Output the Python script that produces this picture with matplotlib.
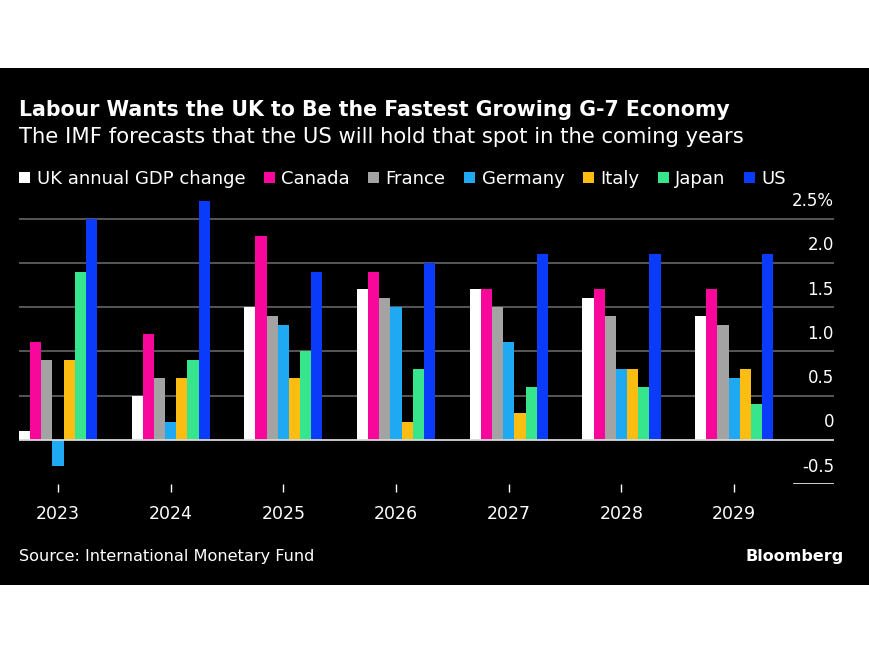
import matplotlib
matplotlib.use("Agg")
import matplotlib.pyplot as plt
from matplotlib.patches import Rectangle
from matplotlib.transforms import ScaledTranslation
import numpy as np

plt.rcParams['font.family'] = ['DejaVu Sans']

years = ['2023', '2024', '2025', '2026', '2027', '2028', '2029']
series = ['UK annual GDP change', 'Canada', 'France', 'Germany', 'Italy', 'Japan', 'US']
colors = ['#ffffff', '#f7079a', '#a3a3a3', '#1ea9f2', '#fbbd12', '#36e58c', '#0a3bfb']

uk = [0.1, 0.5, 1.5, 1.7, 1.7, 1.6, 1.4]
canada = [1.1, 1.2, 2.3, 1.9, 1.7, 1.7, 1.7]
france = [0.9, 0.7, 1.4, 1.6, 1.5, 1.4, 1.3]
germany = [-0.3, 0.2, 1.3, 1.5, 1.1, 0.8, 0.7]
italy = [0.9, 0.7, 0.7, 0.2, 0.3, 0.8, 0.8]
japan = [1.9, 0.9, 1.0, 0.8, 0.6, 0.6, 0.4]
us = [2.5, 2.7, 1.9, 2.0, 2.1, 2.1, 2.1]
values = [uk, canada, france, germany, italy, japan, us]

yticks = [-0.5, 0, 0.5, 1.0, 1.5, 2.0, 2.5]
ytick_labels = ['-0.5', '0', '0.5', '1.0', '1.5', '2.0', '2.5%']

W, H = 870, 653
fig = plt.figure(figsize=(W / 100, H / 100), dpi=100, facecolor='white')
fig.patches.append(Rectangle((0, 68 / H), 1, 517 / H, transform=fig.transFigure,
                             facecolor='black', edgecolor='none', zorder=-10))

ax = fig.add_axes([19 / W, (H - 484) / H, 815 / W, 292 / H])
ax.set_facecolor('none')

x = np.arange(len(years))
bw = 0.099
handles = []
for i, (name, vals) in enumerate(zip(series, values)):
    b = ax.bar(x + (i - 3) * bw, vals, width=bw, color=colors[i], label=name, zorder=3)
    handles.append(b)

ax.set_xlim(-0.346, 6.886)
ax.set_ylim(-0.5, 2.8)

for s in ax.spines.values():
    s.set_visible(False)

# gridlines
for t in yticks[2:]:
    ax.axhline(t, color='#666666', lw=1.2, zorder=1)
ax.axhline(0, color='#d9d9d9', lw=1.3, zorder=4)
ax.axhline(-0.5, xmin=(794 - 19) / 815, xmax=1, color='#e0e0e0', lw=1.3, zorder=4)

ax.set_yticks([])
ytrans = ax.get_yaxis_transform() + ScaledTranslation(0, 0.175, fig.dpi_scale_trans)
for t, lab in zip(yticks, ytick_labels):
    ax.text(1.0, t, lab, transform=ytrans, ha='right', va='center',
            color='white', fontsize=12)

ax.set_xticks(x)
ax.set_xticklabels(years)
ax.tick_params(axis='x', colors='white', length=6, width=1, pad=9, labelsize=12.5)

fig.text(19 / W, (H - 110) / H, 'Labour Wants the UK to Be the Fastest Growing G-7 Economy',
         color='white', fontsize=14.8, fontweight='bold', va='center', ha='left')
fig.text(19 / W, (H - 137) / H, 'The IMF forecasts that the US will hold that spot in the coming years',
         color='white', fontsize=15.2, va='center', ha='left')

fig.legend(handles=handles, labels=series, loc='center left',
           bbox_to_anchor=(19 / W, (H - 179) / H), ncol=7, frameon=False,
           handlelength=0.62, handleheight=0.62, handletextpad=0.35,
           columnspacing=1.02, fontsize=13, labelcolor='white',
           borderaxespad=0, borderpad=0)

fig.text(19 / W, (H - 556) / H, 'Source: International Monetary Fund',
         color='white', fontsize=11.6, va='center', ha='left')
fig.text(844 / W, (H - 556) / H, 'Bloomberg',
         color='white', fontsize=11.5, fontweight='bold', va='center', ha='right')

fig.savefig('out.png', dpi=100, facecolor=fig.get_facecolor())
